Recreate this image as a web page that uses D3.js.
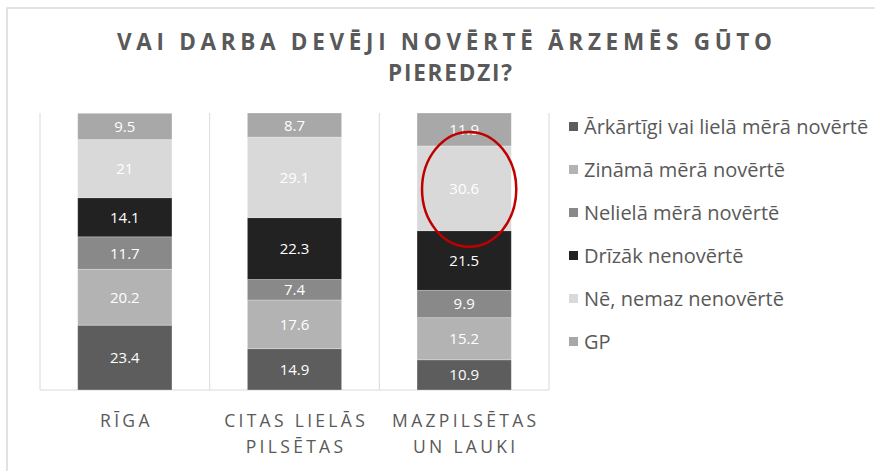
<!DOCTYPE html>
<html>
<head>
<meta charset="utf-8">
<style>
  body { margin: 0; background: white; }
  svg { display: block; font-family: "Open Sans", sans-serif; }
  .grid line { stroke: #d9d9d9; stroke-width: 1; }
  .title { fill: #595959; font-weight: bold; font-size: 22.5px; }
  .xlab { fill: #595959; font-size: 17.5px; letter-spacing: 3.3px; }
  .legend text { fill: #595959; font-size: 20px; }
  .val { fill: white; font-size: 15px; }
</style>
</head>
<body>
<script src="https://cdn.jsdelivr.net/npm/d3@7"></script>
<script>
  const categories = ['RĪGA', 'CITAS LIELĀS PILSĒTAS', 'MAZPILSĒTAS UN LAUKI'];
  const catLines = [['RĪGA'], ['CITAS LIELĀS', 'PILSĒTAS'], ['MAZPILSĒTAS', 'UN LAUKI']];
  const series = [
    'Ārkārtīgi vai lielā mērā novērtē',
    'Zināmā mērā novērtē',
    'Nelielā mērā novērtē',
    'Drīzāk nenovērtē',
    'Nē, nemaz nenovērtē',
    'GP'
  ];
  const colors = ['#5d5d5d', '#b3b3b3', '#898989', '#222222', '#d9d9d9', '#a8a8a8'];
  // one array per series, in category order
  const arkartigi = [23.4, 14.9, 10.9];
  const zinama = [20.2, 17.6, 15.2];
  const neliela = [11.7, 7.4, 9.9];
  const drizak = [14.1, 22.3, 21.5];
  const nemaz = [21, 29.1, 30.6];
  const gp = [9.5, 8.7, 11.9];
  const values = [arkartigi, zinama, neliela, drizak, nemaz, gp];
  const yTicks = [0, 100];

  const W = 875, H = 471;
  const plot = {l: 40, r: 549, t: 113, b: 390};

  const svg = d3.select('body').append('svg').attr('width', W).attr('height', H);

  // chart frame
  svg.append('rect')
    .attr('x', 7).attr('y', 8).attr('width', W + 10).attr('height', H + 10)
    .attr('fill', 'none').attr('stroke', '#d9d9d9').attr('stroke-width', 1.5);

  const x = d3.scaleBand().domain(categories).range([plot.l, plot.r]);
  const y = d3.scaleLinear().domain(d3.extent(yTicks)).range([plot.b, plot.t]);
  const barW = x.bandwidth() / 1.8;

  // category gridlines
  const grid = svg.append('g').attr('class', 'grid');
  grid.selectAll('line.v')
    .data(categories.map(c => x(c)).concat([plot.r]))
    .join('line')
    .attr('class', 'v')
    .attr('x1', d => d).attr('x2', d => d)
    .attr('y1', y(100)).attr('y2', y(0));
  grid.append('line')
    .attr('x1', plot.l).attr('x2', plot.r)
    .attr('y1', y(0)).attr('y2', y(0));

  // stack
  const rows = categories.map((c, i) => {
    const r = {cat: c};
    series.forEach((s, j) => { r[s] = values[j][i]; });
    return r;
  });
  const stacked = d3.stack().keys(series)(rows);

  const layers = svg.append('g').selectAll('g')
    .data(stacked)
    .join('g')
    .attr('fill', (d, i) => colors[i]);

  layers.selectAll('rect')
    .data(d => d)
    .join('rect')
    .attr('x', d => x(d.data.cat) + (x.bandwidth() - barW) / 2)
    .attr('width', barW)
    .attr('y', d => y(d[1]))
    .attr('height', d => y(d[0]) - y(d[1]))
    .attr('stroke', 'white').attr('stroke-opacity', 0.35).attr('stroke-width', 0.75);

  layers.selectAll('text')
    .data(d => d.map(p => ({p, v: p.data[d.key]})))
    .join('text')
    .attr('class', 'val')
    .attr('text-anchor', 'middle')
    .attr('x', d => x(d.p.data.cat) + x.bandwidth() / 2)
    .attr('y', d => (y(d.p[0]) + y(d.p[1])) / 2 + 5.5)
    .text(d => d.v);

  // category labels
  svg.append('g').selectAll('text')
    .data(categories)
    .join('text')
    .attr('class', 'xlab')
    .attr('text-anchor', 'middle')
    .attr('y', 427)
    .each(function(c, i) {
      d3.select(this).selectAll('tspan')
        .data(catLines[i])
        .join('tspan')
        .attr('x', x(c) + x.bandwidth() / 2 + 1.6)
        .attr('dy', (d, k) => k ? 26 : 0)
        .text(d => d);
    });

  // title
  svg.append('text').attr('class', 'title')
    .attr('x', 117).attr('y', 50)
    .attr('textLength', 655).attr('lengthAdjust', 'spacing')
    .text('VAI DARBA DEVĒJI NOVĒRTĒ ĀRZEMĒS GŪTO');
  svg.append('text').attr('class', 'title')
    .attr('x', 388).attr('y', 81)
    .attr('textLength', 124).attr('lengthAdjust', 'spacing')
    .text('PIEREDZI?');

  // red annotation around the largest "Nē, nemaz" share
  const nm = stacked[4][2];
  const ecy = (y(nm[0]) + y(nm[1])) / 2;
  svg.append('ellipse')
    .attr('cx', x(categories[2]) + x.bandwidth() / 2 + 5)
    .attr('cy', ecy + 1)
    .attr('rx', barW / 2)
    .attr('ry', (y(nm[0]) - y(nm[1])) / 2 + 15)
    .attr('fill', 'none')
    .attr('stroke', '#c00000')
    .attr('stroke-width', 2.5);

  // legend
  const legend = svg.append('g').attr('class', 'legend');
  const li = legend.selectAll('g')
    .data(series)
    .join('g')
    .attr('transform', (d, i) => `translate(569, ${127 + i * 43})`);
  li.append('rect')
    .attr('x', 0).attr('y', -5).attr('width', 9).attr('height', 9)
    .attr('fill', (d, i) => colors[i]);
  li.append('text')
    .attr('x', 15).attr('y', 7)
    .text(d => d);
</script>
</body>
</html>
